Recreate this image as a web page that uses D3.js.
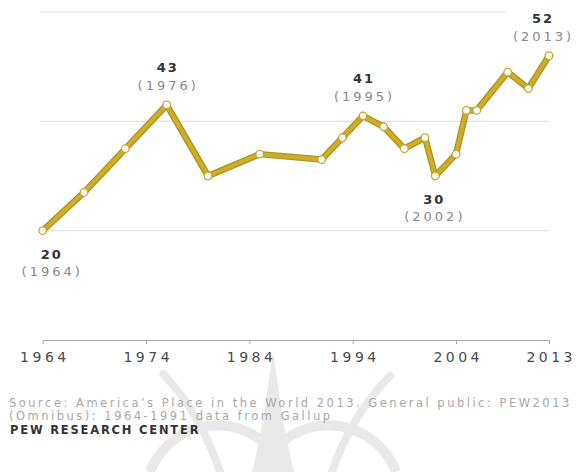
<!DOCTYPE html>
<html>
<head>
<meta charset="utf-8">
<script src="https://cdn.jsdelivr.net/npm/d3@7"></script>
<style>
  html, body { margin: 0; padding: 0; background: #fff; }
  svg { display: block; font-family: "DejaVu Sans", sans-serif; }
</style>
</head>
<body>
<svg id="chart" width="579" height="472"></svg>
<script>
// Share saying the U.S. should "mind its own business internationally" (%)
const years  = [1964, 1968, 1972, 1976, 1980, 1985, 1991, 1993, 1995, 1997, 1999, 2001, 2002, 2004, 2005, 2006, 2009, 2011, 2013];
const values = [20,   27,   35,   43,   30,   34,   33,   37,   41,   39,   35,   37,   30,   34,   42,   42,   49,   46,   52];

const tickYears = [1964, 1974, 1984, 1994, 2004, 2013];
const gridValues = [20, 40, 60];

// Annotated points: year and whether the label sits above or below the point
const labelYears = [1964, 1976, 1995, 2002, 2013];
const labelSides = ["below", "above", "above", "below", "above"];
const labelShift = [8, 0, 0, -2, -7];

const sourceLines = [
  "Source: America\u2019s Place in the World 2013. General public: PEW2013",
  "(Omnibus): 1964-1991 data from Gallup"
];
const creditText = "PEW RESEARCH CENTER";

const data = years.map((yr, i) => ({ year: yr, value: values[i] }));

const svg = d3.select("#chart");

const x = d3.scaleLinear().domain([1964, 2013]).range([42.7, 549]);
const y = d3.scaleLinear().domain([0, 60]).range([340, 12]);

// Faint emblem in the background behind the footer
const mark = svg.append("g").attr("fill", "#dcdcdc").attr("stroke", "#dcdcdc").attr("opacity", 0.6);
mark.append("path")
  .attr("stroke", "none")
  .attr("d", "M273,352 L267,392 Q262,432 252,472 L294,472 Q284,432 279,392 Z");
mark.append("path")
  .attr("fill", "none").attr("stroke-width", 8).attr("stroke-linecap", "round")
  .attr("d", "M163,374 Q200,412 220,472");
mark.append("path")
  .attr("fill", "none").attr("stroke-width", 8).attr("stroke-linecap", "round")
  .attr("d", "M390,376 Q352,414 332,472");
mark.append("path")
  .attr("fill", "none").attr("stroke-width", 10)
  .attr("d", "M150,472 A72,72 0 0 1 268,446");
mark.append("path")
  .attr("fill", "none").attr("stroke-width", 10)
  .attr("d", "M278,446 A72,72 0 0 1 396,472");

// Gridlines
svg.append("g")
  .selectAll("line")
  .data(gridValues)
  .join("line")
  .attr("x1", x(1964) - 3)
  .attr("x2", x(2013))
  .attr("y1", d => y(d))
  .attr("y2", d => y(d))
  .attr("stroke", "#e2e2e2")
  .attr("stroke-width", 1.2);

// X axis
const axis = svg.append("g")
  .attr("transform", `translate(0,${y(0)})`)
  .call(d3.axisBottom(x)
    .tickValues(tickYears)
    .tickFormat(d3.format("d"))
    .tickSize(4)
    .tickSizeOuter(0)
    .tickPadding(8));
axis.select(".domain").attr("stroke", "#a8a8a8").attr("stroke-width", 1.2);
axis.selectAll(".tick line").attr("stroke", "#a8a8a8");
axis.selectAll(".tick text")
  .attr("fill", "#4a4a4a")
  .attr("font-size", 14)
  .attr("font-family", "DejaVu Sans, sans-serif")
  .attr("letter-spacing", "3.5px")
  .attr("dx", "1.7px");

// Line
const line = d3.line().x(d => x(d.year)).y(d => y(d.value));
svg.append("path")
  .datum(data)
  .attr("fill", "none")
  .attr("stroke", "#a89522")
  .attr("stroke-width", 6.5)
  .attr("stroke-linejoin", "round")
  .attr("d", line);
svg.append("path")
  .datum(data)
  .attr("fill", "none")
  .attr("stroke", "#cfad28")
  .attr("stroke-width", 4)
  .attr("stroke-linejoin", "round")
  .attr("d", line);

// Points
svg.append("g")
  .selectAll("circle")
  .data(data)
  .join("circle")
  .attr("cx", d => x(d.year))
  .attr("cy", d => y(d.value))
  .attr("r", 3.8)
  .attr("fill", "#fff")
  .attr("stroke", "#c9a52a")
  .attr("stroke-width", 1.3);

// Value / year annotations
const labels = labelYears.map((yr, i) => {
  const d = data.find(p => p.year === yr);
  return { ...d, side: labelSides[i], shift: labelShift[i] };
});

const lg = svg.append("g")
  .selectAll("g")
  .data(labels)
  .join("g")
  .attr("transform", d => `translate(${x(d.year) + d.shift},${y(d.value)})`);

lg.append("rect")
  .attr("x", -36)
  .attr("width", 72)
  .attr("y", d => d.side === "above" ? -47 : 13)
  .attr("height", 37)
  .attr("fill", "#fff")
  .attr("opacity", d => d.side === "above" ? 1 : 0);

lg.append("text")
  .attr("text-anchor", "middle")
  .attr("y", d => d.side === "above" ? -33 : 28)
  .attr("font-size", 13)
  .attr("font-weight", "bold")
  .attr("fill", "#333")
  .attr("letter-spacing", "2px")
  .attr("dx", "1px")
  .text(d => d.value);

lg.append("text")
  .attr("text-anchor", "middle")
  .attr("y", d => d.side === "above" ? -15 : 45)
  .attr("font-size", 13)
  .attr("fill", "#8a8a8a")
  .attr("letter-spacing", "3px")
  .attr("dx", "1.5px")
  .text(d => `(${d.year})`);

// Footer
svg.append("g")
  .selectAll("text")
  .data(sourceLines)
  .join("text")
  .attr("x", 9)
  .attr("y", (d, i) => 407 + i * 12.5)
  .attr("font-size", 11.5)
  .attr("fill", "#a8a8a8")
  .attr("letter-spacing", "2.5px")
  .text(d => d);

svg.append("text")
  .attr("x", 10)
  .attr("y", 434)
  .attr("font-size", 11.5)
  .attr("font-weight", "bold")
  .attr("fill", "#333")
  .attr("letter-spacing", "1.8px")
  .text(creditText);
</script>
</body>
</html>
